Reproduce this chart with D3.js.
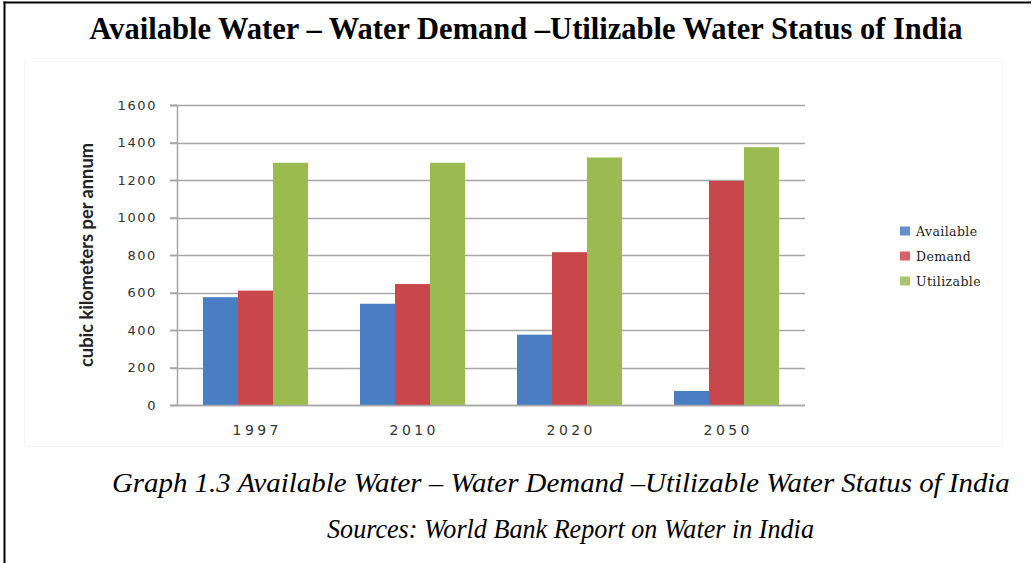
<!DOCTYPE html>
<html>
<head>
<meta charset="utf-8">
<script src="https://cdn.jsdelivr.net/npm/d3@7"></script>
<style>
  html, body { margin: 0; padding: 0; background: #fff; }
  svg { display: block; }
</style>
</head>
<body>
<svg id="chart" width="1034" height="563"></svg>
<script>
const years = ["1997", "2010", "2020", "2050"];
const seriesNames = ["Available", "Demand", "Utilizable"];
const available = [575, 540, 375, 75];
const demand = [610, 645, 815, 1195];
const utilizable = [1292, 1292, 1320, 1375];
const yTicks = [0, 200, 400, 600, 800, 1000, 1200, 1400, 1600];
const colors = ["#4a7ec4", "#c9474a", "#9bbb50"];

const seriesValues = [available, demand, utilizable];
const svg = d3.select("#chart");

// frame
svg.append("line").attr("x1", 4.5).attr("x2", 4.5).attr("y1", 1.5).attr("y2", 563)
  .attr("stroke", "#000").attr("stroke-width", 2);
svg.append("line").attr("x1", 3.5).attr("x2", 1031).attr("y1", 2.5).attr("y2", 2.5)
  .attr("stroke", "#000").attr("stroke-width", 2);

// faint chart area box
svg.append("rect").attr("x", 24.5).attr("y", 61.5).attr("width", 978).attr("height", 385)
  .attr("fill", "none").attr("stroke", "#f6f6f6").attr("stroke-width", 1);

function fitText(sel, target) {
  const w = sel.node().getComputedTextLength();
  const fs = parseFloat(sel.style("font-size"));
  sel.style("font-size", (fs * target / w) + "px");
}
function squeezeText(sel, target, ax, ay) {
  const w = sel.node().getComputedTextLength();
  const s = target / w;
  sel.attr("x", 0).attr("y", 0)
     .attr("transform", `translate(${ax},${ay}) scale(${s},1)`);
}

// title
const title = svg.append("text")
  .attr("x", 526).attr("y", 39).attr("text-anchor", "middle")
  .style("font-family", "'Liberation Serif', 'Times New Roman', serif")
  .style("font-weight", "bold").style("font-size", "24px").attr("fill", "#000")
  .text("Available Water \u2013 Water Demand \u2013Utilizable Water Status of India");
fitText(title, 873);

const x0 = 177, x1 = 805, yTop = 105, yBot = 405;
const x = d3.scaleBand().domain(years).range([x0, x1]).paddingInner(0.331).paddingOuter(0.1655);
const xs = d3.scaleBand().domain(seriesNames).range([0, x.bandwidth()]);
const y = d3.scaleLinear().domain([0, 1600]).range([yBot, yTop]);

// gridlines
const g = svg.append("g");
g.selectAll("line.grid").data(yTicks).join("line")
  .attr("class", "grid")
  .attr("x1", x0 - 7).attr("x2", x1)
  .attr("y1", d => Math.round(y(d)) + 0.5).attr("y2", d => Math.round(y(d)) + 0.5)
  .attr("stroke", "#a6a6a6").attr("stroke-width", 1.5);

// y axis
const yAxis = svg.append("g").attr("transform", `translate(${x0},0)`)
  .call(d3.axisLeft(y).tickValues(yTicks).tickSize(7).tickPadding(13).tickFormat(d3.format("d")));
yAxis.select(".domain").attr("stroke", "#a6a6a6").attr("stroke-width", 1.5);
yAxis.selectAll(".tick line").attr("stroke", "#a6a6a6").attr("stroke-width", 1.5);
yAxis.selectAll(".tick text")
  .style("font-family", "'DejaVu Sans', Verdana, sans-serif").style("font-size", "13px")
  .style("letter-spacing", "1.6px").attr("fill", "#333");

// bars
const groups = svg.append("g").selectAll("g.grp").data(years).join("g")
  .attr("class", "grp").attr("transform", d => `translate(${x(d)},0)`);
groups.selectAll("rect").data((d, i) => seriesNames.map((s, k) => ({ s, k, v: seriesValues[k][i] })))
  .join("rect")
  .attr("x", d => xs(d.s)).attr("width", xs.bandwidth())
  .attr("y", d => y(d.v)).attr("height", d => y(0) - y(d.v))
  .attr("fill", d => colors[d.k]);

// bottom axis
const xAxis = svg.append("g").attr("transform", `translate(0,${yBot})`)
  .call(d3.axisBottom(x).tickSize(0).tickPadding(20));
xAxis.select(".domain").attr("stroke", "#a6a6a6").attr("stroke-width", 1.5)
  .attr("d", `M${x0},0.5H${x1}`);
xAxis.selectAll(".tick text")
  .style("font-family", "'DejaVu Sans', Verdana, sans-serif").style("font-size", "14px")
  .style("letter-spacing", "3.4px").attr("dx", "1.7px").attr("fill", "#333");

// y title
const yt = svg.append("text")
  .attr("transform", "translate(93,255) rotate(-90)").attr("text-anchor", "middle")
  .style("font-family", "Lato, 'Open Sans', sans-serif").style("font-weight", "bold")
  .style("font-size", "15px").attr("fill", "#222")
  .text("cubic kilometers per annum");
fitText(yt, 224);

// legend
const legendY = [231, 256, 281];
const leg = svg.append("g").selectAll("g").data(seriesNames).join("g")
  .attr("transform", (d, i) => `translate(900,${legendY[i]})`);
leg.append("rect").attr("x", 0).attr("y", -4.5).attr("width", 10).attr("height", 9)
  .attr("fill", (d, i) => colors[i]).attr("opacity", 0.85);
leg.append("text").attr("x", 16).attr("y", 4.5)
  .style("font-family", "'DejaVu Serif', 'Liberation Serif', serif").style("font-size", "12.5px")
  .style("letter-spacing", "0.4px").attr("fill", "#222")
  .text(d => d);

// caption
const c1 = svg.append("text")
  .style("font-family", "'Liberation Serif', 'DejaVu Serif', serif").style("font-style", "italic")
  .style("font-size", "28px").attr("fill", "#000")
  .text("Graph 1.3 Available Water \u2013 Water Demand \u2013Utilizable Water Status of India");
squeezeText(c1, 898, 112, 492);
const c2 = svg.append("text")
  .style("font-family", "'Liberation Serif', 'DejaVu Serif', serif").style("font-style", "italic")
  .style("font-size", "28px").attr("fill", "#000")
  .text("Sources: World Bank Report on Water in India");
squeezeText(c2, 487, 327, 538);
</script>
</body>
</html>
